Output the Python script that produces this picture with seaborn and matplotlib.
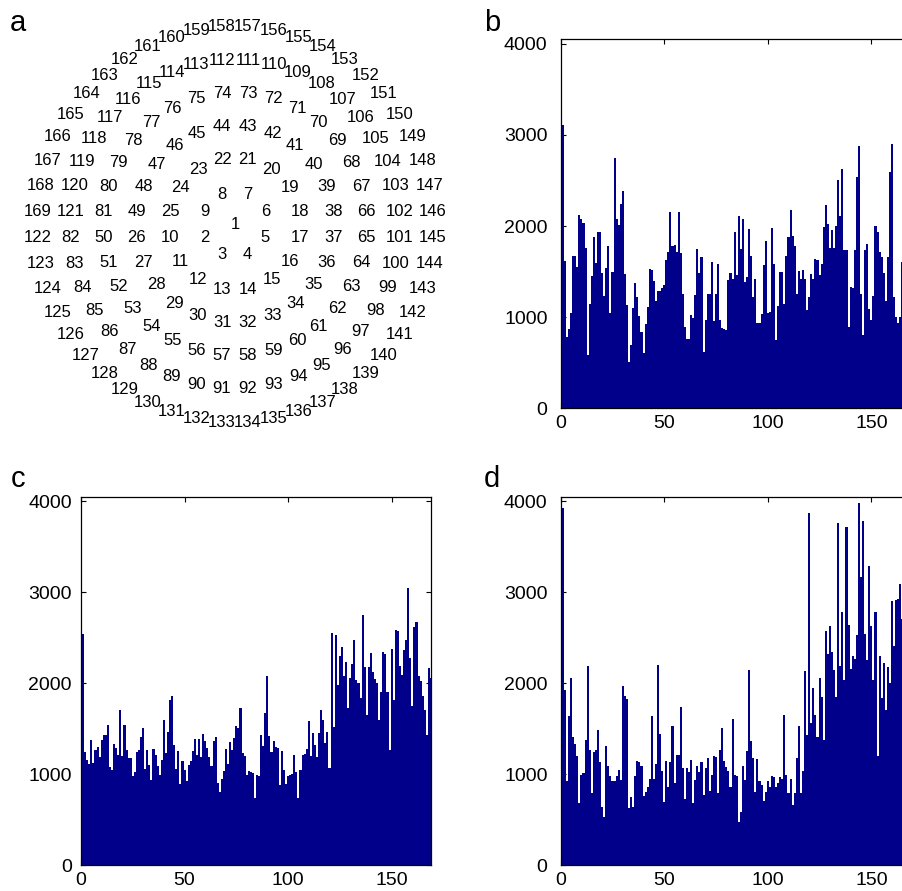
import matplotlib
matplotlib.use("Agg")
import numpy as np
import matplotlib.pyplot as plt
import seaborn as sns

# Channel layout: ring k holds 8k channels, channel 1 sits in the middle
RING_SIZES = [1, 8, 16, 24, 32, 40, 48]

# Counts per channel (1..169) for panels b, c and d
counts_b = [
    3110, 1620, 780, 870, 1050, 1670, 1670, 1550, 2120, 2080,
    2030, 1760, 580, 1150, 1450, 1880, 1600, 1940, 1940, 1490,
    1230, 1540, 1780, 1050, 1500, 2750, 2080, 2010, 2240, 2380,
    1470, 1130, 510, 690, 1100, 1370, 1220, 1010, 840, 610,
    930, 1110, 1530, 1520, 1400, 1180, 1290, 1290, 1320, 1350,
    1630, 1720, 2150, 1780, 1790, 1720, 2150, 1700, 1250, 890,
    760, 760, 1020, 990, 1240, 1750, 1490, 1660, 620, 970,
    1250, 1250, 1610, 960, 1260, 1580,
    967, 883, 869, 858, 1405, 1489, 1416, 1935, 1460, 2106,
    1752, 2077, 1387, 1442, 1971, 1668, 1223, 1424, 931, 931,
    1033, 1570, 1836, 1048, 1059, 1982, 1588, 748, 1128, 1497,
    1497, 1150, 1672, 1876, 2179, 1887, 1778, 1259, 1507, 1424,
    1522, 1424, 1084, 1223, 1471, 1424, 1643, 1632, 1467, 1588,
    1989, 2227, 2026, 1763, 1953, 1763, 1997, 2511, 2106, 2628,
    1734, 1734, 887, 1332, 1321, 1734, 2537, 2884, 1259, 803,
    1734, 1807, 1091, 967, 1230, 2004, 1931, 1716, 1661, 1482,
    1179, 1661, 2592, 2902, 1223, 1004, 931, 1004, 1610,
    1750, 1300, 1500, 1900,
]

counts_c = [
    2540, 1237, 1149, 1108, 1376, 1119, 1266, 1295, 1185, 1376,
    1431, 1431, 1541, 1075, 1039, 1332, 1284, 1211, 1703, 1200,
    1541, 1259, 1174, 1174, 980, 1017, 1240, 1259, 1402, 1505,
    1053, 1266, 1101, 929, 1273, 1211, 1083, 987, 1156, 1589,
    1229, 1457, 1817, 1861, 1321, 1053, 1248, 892, 1138, 1039,
    918, 1101, 1145, 1255, 1384, 1204, 1387, 1182, 1442, 1365,
    1284, 1185, 1090, 1358, 1402, 906, 807, 943, 1028, 1277,
    1112, 1347, 1266, 1391,
    1523, 1505, 1721, 1229, 1200, 991, 1028, 1017, 1009, 734,
    991, 980, 1431, 1303, 1670, 2074, 1420, 1237, 1365, 1292,
    1284, 881, 1255, 1039, 892, 980, 991, 998, 1204, 1017,
    734, 1046, 1211, 1222, 1273, 1578, 1200, 1450, 1321, 1185,
    1450, 1699, 1589, 1340, 1457, 1064, 2551, 1516, 2532, 1982,
    2294, 2397, 2074, 2228, 1725, 2055, 2213, 2477, 2037, 2000,
    1835, 2753, 2176, 1652, 2176, 2330, 2118, 2044, 2000, 1596,
    1901, 2338, 2323, 1897, 1266, 2374, 1809, 2580, 2569, 2184,
    2092, 2367, 2477, 3046, 2275, 1751, 2617, 2668, 2074, 2018,
    1861, 1707, 1431, 2165, 2055,
]

counts_d = [
    3920, 1919, 918, 1633, 2055, 1406, 1329, 1200, 686, 991,
    1009, 1369, 2191, 1266, 796, 1237, 1259, 1486, 1127, 642,
    532, 1303, 1090, 980, 918, 918, 980, 1046, 936, 1971,
    1853, 1824, 624, 752, 642, 980, 1138, 1127, 1083, 760,
    800, 855, 943, 1640, 943, 1112, 2202, 1442, 1028, 697,
    1145, 855, 1130, 1523, 899, 1211, 1211, 1732, 1061, 723,
    1061, 1017, 1156, 679, 936, 1090, 1017, 1130, 771, 1061,
    1174, 818, 984, 1200, 1185, 796,
    1259, 1505, 1138, 1075, 1035, 862, 1604, 991, 973, 477,
    587, 1090, 936, 1248, 2147, 1358, 1174, 807, 1163, 925,
    881, 700, 807, 918, 862, 980, 965, 855, 899, 962,
    943, 1648, 991, 796, 943, 661, 796, 1174, 1523, 796,
    1035, 2129, 1431, 3865, 1560, 1949, 1652, 1406, 2052, 1846,
    1376, 2576, 2319, 2624, 2338, 2147, 1846, 3762, 2184, 2778,
    2037, 3718, 2639, 2154, 2294, 2264, 2532, 3980, 3167, 3780,
    2543, 2257, 3285, 2624, 2037, 2778, 1200, 2294, 1835, 2220,
    1707, 2176, 2000, 2899, 2404, 2910, 2918, 3083,
    2700, 2400, 2900, 3100, 2600,
]

X_TICKS = [0, 50, 100, 150]
Y_TICKS = [0, 1000, 2000, 3000, 4000]
PANEL_LABELS = ['a', 'b', 'c', 'd']

BAR_COLOR = '#00008B'
W, H, DPI = 903, 891, 100

sns.set_style('ticks', {'axes.edgecolor': 'black', 'text.color': 'black',
                        'xtick.color': 'black', 'ytick.color': 'black',
                        'xtick.direction': 'in', 'ytick.direction': 'in'})
plt.rcParams['font.family'] = ['Liberation Sans', 'DejaVu Sans']
plt.rcParams['text.color'] = 'black'

fig = plt.figure(figsize=(W / DPI, H / DPI), dpi=DPI)


def px_axes(left, top, right, bottom):
    # place an axes from pixel edges (image coordinates, y down)
    return fig.add_axes([left / W, 1 - bottom / H, (right - left) / W, (bottom - top) / H])


# ---- panel a: channel map ----
ax_a = px_axes(0, 0, 470, 440)
ax_a.axis('off')
ring_px = 33.0
ax_a.set_xlim(-235 / ring_px, 235 / ring_px)
ax_a.set_ylim(-(440 - 224.5) / ring_px, 224.5 / ring_px)

ch = 1
for k, n in enumerate(RING_SIZES):
    if n == 1:
        ax_a.text(0, 0, str(ch), ha='center', va='center', fontsize=12, color='black')
        ch += 1
        continue
    step = 2 * np.pi / n
    for j in range(n):
        ang = np.pi + step / 2 + j * step
        ax_a.text(k * np.cos(ang), k * np.sin(ang), str(ch),
                  ha='center', va='center', fontsize=12, color='black')
        ch += 1

# ---- panels b, c, d: counts per channel ----
channels = np.arange(1, 170)
panels = [
    (counts_b, (560.7, 39.3, 910.7, 408.3), 9.5),
    (counts_c, (81, 496.5, 431, 865), 6.5),
    (counts_d, (560.7, 496.5, 910.7, 865), 9.5),
]
for counts, box, ypad in panels:
    ax = px_axes(*box)
    sns.histplot(x=channels, weights=counts, discrete=True, color=BAR_COLOR,
                 alpha=1, linewidth=0, ax=ax)
    ax.set_xlim(0, 169)
    ax.set_ylim(0, 4050)
    ax.set_xticks(X_TICKS)
    ax.set_yticks(Y_TICKS)
    ax.set_xlabel('')
    ax.set_ylabel('')
    ax.tick_params(direction='in', length=3.5, width=0.8, top=True, right=True,
                   labelsize=14, colors='black')
    ax.tick_params(axis='y', pad=ypad)
    ax.tick_params(axis='x', pad=5)
    for s in ax.spines.values():
        s.set_linewidth(0.9)
        s.set_color('black')

# panel letters
for lab, (x, y) in zip(PANEL_LABELS, [(10, 31), (484, 31), (11, 487), (484, 487)]):
    fig.text(x / W, 1 - y / H, lab, fontsize=21, ha='left', va='baseline', color='black')

fig.savefig('out.png', dpi=DPI)
